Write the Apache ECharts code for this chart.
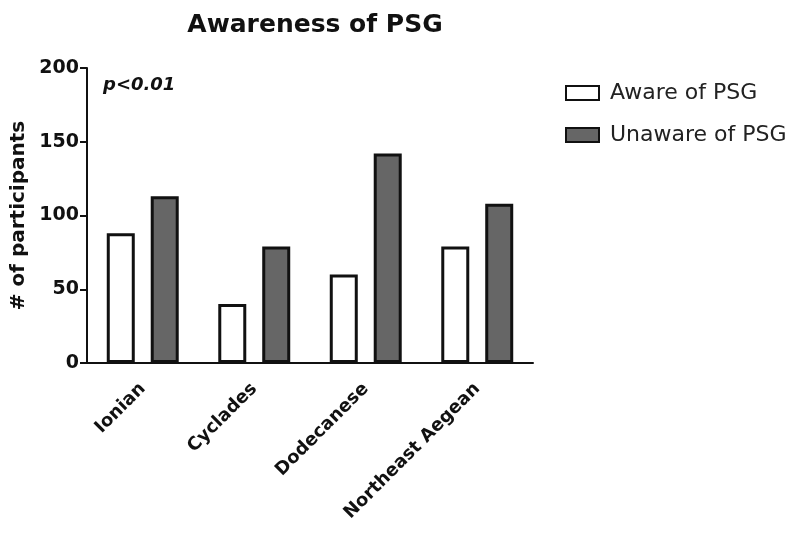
<!DOCTYPE html>
<html>
<head>
<meta charset="utf-8">
<script src="https://cdn.jsdelivr.net/npm/echarts@6/dist/echarts.min.js"></script>
<style>
  html, body { margin: 0; padding: 0; background: #fff; }
  #chart { width: 800px; height: 539px; }
</style>
</head>
<body>
<div id="chart"></div>
<script>
  const regions = ["Ionian", "Cyclades", "Dodecanese", "Northeast Aegean"];
  const aware = [88, 40, 60, 79];
  const unaware = [113, 79, 142, 108];
  const yTicks = [0, 50, 100, 150, 200];

  const font = "DejaVu Sans, Liberation Sans, sans-serif";
  const chart = echarts.init(document.getElementById("chart"));

  const option = {
    backgroundColor: "#fff",
    animation: false,
    title: {
      text: "Awareness of PSG",
      left: 310,
      textAlign: "center",
      top: 8,
      textStyle: { fontFamily: font, fontSize: 25, fontWeight: "bold", color: "#111" },
    },
    legend: {
      orient: "vertical",
      left: 560,
      top: 77,
      icon: "rect",
      itemWidth: 33,
      itemHeight: 14,
      itemGap: 20,
      itemStyle: { borderColor: "#111", borderWidth: 2 },
      textStyle: { fontFamily: font, fontSize: 22, color: "#222", padding: [0, 0, 0, 6] },
      data: ["Aware of PSG", "Unaware of PSG"],
    },
    graphic: [
      {
        type: "text",
        left: 103,
        top: 76,
        style: {
          text: "p<0.01",
          font: "italic bold 18px " + font,
          fill: "#111",
        },
      },
    ],
    grid: { left: 87, right: 267, top: 68, bottom: 176 },
    xAxis: {
      type: "category",
      data: regions,
      axisLine: { lineStyle: { color: "#111", width: 2 } },
      axisTick: { alignWithLabel: true, length: 6, lineStyle: { color: "#111", width: 2 } },
      axisLabel: {
        rotate: 45,
        margin: 23,
        fontFamily: font,
        fontSize: 18,
        fontWeight: "bold",
        color: "#111",
      },
    },
    yAxis: {
      type: "value",
      min: yTicks[0],
      max: yTicks[yTicks.length - 1],
      interval: 50,
      name: "# of participants",
      nameLocation: "middle",
      nameGap: 57,
      nameTextStyle: { fontFamily: font, fontSize: 20, fontWeight: "bold", color: "#111" },
      axisLine: { show: true, lineStyle: { color: "#111", width: 2 } },
      axisTick: { show: true, length: 7, lineStyle: { color: "#111", width: 2 } },
      axisLabel: { margin: 8, fontFamily: font, fontSize: 19, fontWeight: "bold", color: "#111" },
      splitLine: { show: false },
    },
    series: [
      {
        name: "Aware of PSG",
        type: "bar",
        data: aware,
        barWidth: 28,
        barGap: "57%",
        itemStyle: { color: "#fff", borderColor: "#111", borderWidth: 3 },
      },
      {
        name: "Unaware of PSG",
        type: "bar",
        data: unaware,
        barWidth: 28,
        itemStyle: { color: "#666", borderColor: "#111", borderWidth: 3 },
      },
    ],
  };

  chart.setOption(option);
</script>
</body>
</html>
